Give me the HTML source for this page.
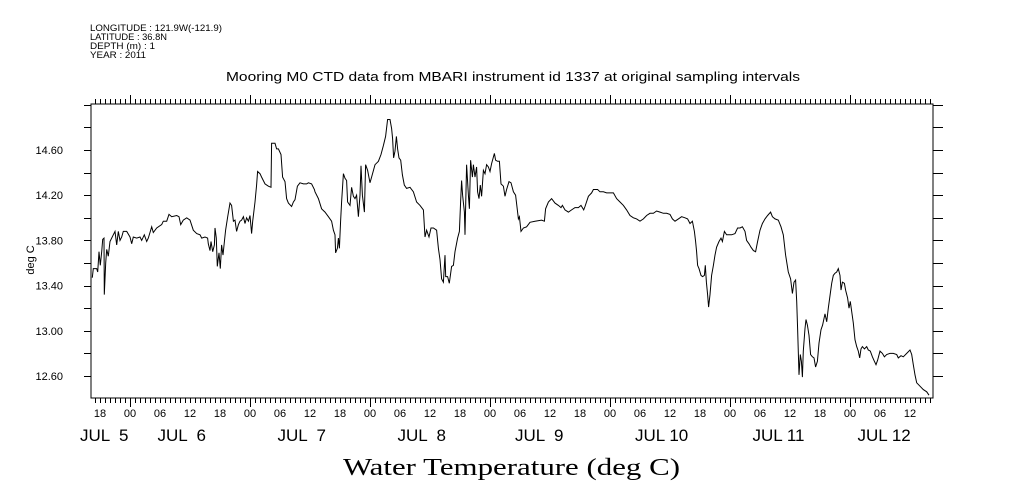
<!DOCTYPE html>
<html><head><meta charset="utf-8"><style>
html,body{margin:0;padding:0;background:#fff;}
svg{display:block;font-family:"Liberation Sans",sans-serif;}
</style></head><body>
<svg id="chart" width="1009" height="504" viewBox="0 0 1009 504" xmlns="http://www.w3.org/2000/svg">
<g font-size="9" fill="#000">
<text x="90" y="31" textLength="132" lengthAdjust="spacingAndGlyphs">LONGITUDE : 121.9W(-121.9)</text>
<text x="90" y="40" textLength="77" lengthAdjust="spacingAndGlyphs">LATITUDE : 36.8N</text>
<text x="90" y="49" textLength="65" lengthAdjust="spacingAndGlyphs">DEPTH (m) : 1</text>
<text x="90" y="58" textLength="56" lengthAdjust="spacingAndGlyphs">YEAR : 2011</text>
</g>
<text x="226" y="81" textLength="574" lengthAdjust="spacingAndGlyphs" font-size="12.5">Mooring M0 CTD data from MBARI instrument id 1337 at original sampling intervals</text>
<text transform="translate(34,260) rotate(-90)" text-anchor="middle" font-size="11">deg C</text>
<text x="343" y="475" textLength="337" lengthAdjust="spacingAndGlyphs" font-size="24" font-family="Liberation Serif, serif">Water Temperature (deg C)</text>
<g id="axes"></g>
<g id="ticklabels" font-size="11"></g>
<path id="series" fill="none" stroke="#000" stroke-width="1"/>
</svg>
<script>
const hours = [-7.53,-7.33,-6.67,-6.47,-6.2,-5.93,-5.67,-5.47,-5.2,-5.13,-4.87,-4.67,-4.33,-4.0,-3.33,-3.0,-2.67,-2.33,-2.0,-1.67,-1.33,-0.67,0,0.33,0.67,1.33,2.0,2.33,2.87,3.33,3.67,4.33,4.67,5.33,6.33,6.67,7.33,7.8,8.33,9.33,9.8,10.13,10.67,11.33,12.0,12.67,13.33,14.0,14.33,15.0,15.53,15.67,16.0,16.2,16.53,16.87,17.0,17.27,17.47,17.8,18.07,18.33,18.6,18.87,19.13,19.53,20.0,20.33,20.67,21.0,21.33,21.67,22.0,22.33,22.67,23.0,23.33,23.67,24.0,24.33,24.53,25.0,25.33,25.53,26.0,26.33,27.0,27.67,28.2,28.33,29.0,29.33,29.67,30.2,30.53,31.0,31.33,31.67,32.33,32.67,33.0,33.47,34.0,34.67,35.33,35.67,36.33,36.87,
37.0,37.67,38.33,39.0,39.67,40.33,40.67,41.0,41.13,41.47,41.67,41.87,42.13,42.33,42.67,43.0,43.33,43.53,44.0,44.33,44.67,45.0,45.33,45.67,46.0,46.2,46.47,46.87,47.13,47.53,48.0,48.33,49.0,49.67,50.2,50.67,51.13,51.53,52.0,52.33,52.53,52.73,53.0,53.27,53.53,53.8,54.13,54.47,54.87,55.33,56.0,56.67,57.33,58.0,58.67,59.0,59.33,59.8,60.2,60.67,61.33,61.67,62.0,62.33,62.67,63.0,63.13,63.53,63.87,64.33,64.67,65.0,65.53,65.87,66.13,66.33,66.53,66.87,67.0,67.33,67.67,67.87,68.13,68.47,68.67,69.0,69.33,69.53,69.8,70.07,70.33,70.67,71.0,71.33,71.67,72.0,72.33,72.87,73.13,73.53,73.87,74.2,74.67,75.0,75.33,75.8,76.2,76.67,77.13,77.67,77.87,78.2,78.67,79.33,80.0,
81.0,82.33,82.87,83.13,83.67,84.33,85.0,85.67,86.2,86.47,87.0,87.67,88.33,89.0,89.67,90.2,90.73,91.0,91.67,92.33,92.67,93.0,93.53,94.0,94.67,95.33,96.0,96.67,97.33,98.0,98.67,99.33,100.0,100.67,101.33,102.0,102.67,103.33,104.0,104.67,105.33,106.0,106.67,107.33,108.0,108.47,109.0,109.67,110.33,111.0,111.53,112.0,112.47,112.87,113.13,113.33,113.53,113.8,114.2,114.53,114.87,115.07,115.27,115.53,115.73,116.0,116.33,116.67,117.0,117.33,117.8,118.2,118.47,118.87,119.33,119.8,120.33,121.0,121.53,122.0,122.47,123.0,123.33,123.8,124.2,124.67,125.13,125.53,126.0,126.47,127.0,127.53,128.13,128.47,129.0,129.67,130.2,130.67,131.13,131.67,132.13,132.47,132.8,133.13,133.33,133.53,133.8,134.07,134.27,134.47,134.67,135.0,135.2,135.47,135.8,136.13,136.47,136.8,137.13,137.47,137.8,138.2,138.53,139.0,139.33,139.67,140.07,140.33,140.67,141.0,141.33,141.67,142.0,142.2,142.47,142.87,143.13,143.53,143.8,144.07,144.33,144.67,145.0,145.33,145.67,145.93,146.2,146.47,146.87,147.33,147.67,148.07,148.47,148.87,149.2,149.53,150.0,150.47,150.87,151.33,152.0,152.67,153.33,153.67,154.2,154.67,155.33,156.0,156.33,156.67,157.0,157.33,158.0,158.67,159.33,159.8];
const temps = [13.47,13.55,13.55,13.52,13.70,13.58,13.70,13.81,13.82,13.32,13.60,13.72,13.66,13.79,13.85,13.88,13.76,13.88,13.80,13.83,13.88,13.88,13.83,13.77,13.83,13.82,13.83,13.80,13.85,13.79,13.82,13.92,13.87,13.91,13.94,13.97,13.97,14.03,14.01,14.02,14.01,13.94,13.98,14.00,13.98,13.89,13.86,13.85,13.82,13.83,13.82,13.77,13.71,13.79,13.70,13.76,13.91,13.82,13.57,13.69,13.55,13.76,13.67,13.79,13.89,14.01,14.13,14.11,13.97,13.98,13.88,13.94,13.97,13.98,14.01,13.95,14.00,13.97,14.02,13.86,13.97,14.14,14.29,14.41,14.39,14.36,14.30,14.28,14.27,14.66,14.66,14.61,14.61,14.56,14.36,14.32,14.17,14.13,14.10,14.14,14.16,14.28,14.31,14.30,14.30,14.31,14.30,14.25,
14.23,14.17,14.08,14.05,14.01,13.97,13.89,13.85,13.69,13.73,13.82,13.73,13.97,14.14,14.39,14.35,14.33,14.14,14.11,14.27,14.19,14.17,14.20,14.01,14.20,14.46,14.20,14.05,14.47,14.42,14.31,14.36,14.47,14.50,14.56,14.64,14.72,14.87,14.87,14.79,14.70,14.53,14.59,14.72,14.61,14.53,14.51,14.38,14.29,14.26,14.27,14.23,14.14,14.11,14.07,13.83,13.89,13.83,13.91,13.91,13.89,13.73,13.63,13.46,13.43,13.67,13.48,13.48,13.42,13.57,13.58,13.70,13.82,13.88,14.14,14.33,14.20,14.05,13.85,14.47,14.20,14.08,14.51,14.36,14.47,14.36,14.45,14.23,14.17,14.29,14.19,14.42,14.39,14.47,14.45,14.41,14.48,14.57,14.51,14.50,14.50,14.30,14.28,14.19,14.25,14.32,14.31,14.23,14.20,13.99,14.01,13.88,13.91,13.92,13.96,
13.97,13.98,13.97,14.08,14.14,14.17,14.13,14.11,14.09,14.11,14.07,14.05,14.07,14.09,14.09,14.11,14.07,14.10,14.19,14.22,14.25,14.25,14.25,14.23,14.23,14.22,14.22,14.22,14.17,14.14,14.11,14.07,14.02,14.00,13.99,13.97,13.99,14.02,14.04,14.04,14.06,14.05,14.04,14.04,14.03,13.99,13.97,13.99,14.01,14.00,13.99,13.95,13.97,13.88,13.79,13.70,13.58,13.55,13.49,13.48,13.49,13.58,13.43,13.32,13.21,13.32,13.49,13.58,13.67,13.74,13.79,13.82,13.79,13.88,13.85,13.85,13.85,13.86,13.91,13.91,13.92,13.88,13.80,13.77,13.74,13.71,13.70,13.79,13.89,13.95,13.99,14.02,14.05,14.01,13.99,13.98,13.92,13.85,13.67,13.52,13.46,13.33,13.43,13.45,13.26,13.02,12.61,12.79,12.73,12.59,12.82,13.02,13.10,13.05,12.96,12.79,12.77,12.76,12.68,12.73,12.89,13.01,13.05,13.15,13.08,13.20,13.33,13.42,13.49,13.51,13.52,13.55,13.49,13.36,13.43,13.42,13.36,13.29,13.20,13.26,13.17,13.07,12.92,12.86,12.82,12.76,12.84,12.86,12.84,12.86,12.83,12.82,12.77,12.73,12.70,12.74,12.82,12.80,12.77,12.79,12.80,12.80,12.79,12.76,12.78,12.77,12.80,12.83,12.79,12.70,12.61,12.54,12.51,12.48,12.46,12.43];
const yTickValues = [14.60,14.20,13.80,13.40,13.00,12.60];
const hourLabels = ["18","00","06","12"];
const dayLabels = ["JUL  5","JUL  6","JUL  7","JUL  8","JUL  9","JUL 10","JUL 11","JUL 12"];
const dayLabelHours = [-10,5.5,29.5,53.5,77,101,124.5,145.5];

const L=91,R=933,T=104,B=398;
function xs(t){return 130+5*t;}
function ys(v){return 150+(14.6-v)*113;}
const NS="http://www.w3.org/2000/svg";
const axes=document.getElementById('axes');
const tl=document.getElementById('ticklabels');
function line(x1,y1,x2,y2,name){
  const l=document.createElementNS(NS,'line');
  l.setAttribute('x1',x1);l.setAttribute('y1',y1);l.setAttribute('x2',x2);l.setAttribute('y2',y2);
  l.setAttribute('stroke','#000');l.setAttribute('stroke-width','1');
  
  
  axes.appendChild(l);
}
const box=document.createElementNS(NS,'rect');
box.setAttribute('x',L);box.setAttribute('y',T);box.setAttribute('width',R-L);box.setAttribute('height',B-T);
box.setAttribute('fill','none');box.setAttribute('stroke','#000');


axes.appendChild(box);
for(let h=-7;h<=160;h++){
  const x=xs(h)+0.5; const major=(h%24===0);
  const len=major?9:5;
  line(x,T,x,T-len,'top-tick');
  line(x,B,x,B+len,'bottom-tick');
}
for(let v=12.4;v<=15.01;v+=0.2){
  const y=Math.round(ys(v))+0.5;
  if(y<T||y>B) continue;
  line(L,y,L-7,y,'left-tick');
  line(R,y,R+10,y,'right-tick');
}
yTickValues.forEach(v=>{
  const t=document.createElementNS(NS,'text');
  t.setAttribute('x',63);t.setAttribute('y',ys(v)+4);t.setAttribute('text-anchor','end');
  t.textContent=v.toFixed(2);
  
  
  tl.appendChild(t);
});
let i=0;
for(let h=-6;h<=156;h+=6){
  const t=document.createElementNS(NS,'text');
  t.setAttribute('x',xs(h));t.setAttribute('y',417);t.setAttribute('text-anchor','middle');
  t.textContent=hourLabels[i%4];i++;
  
  
  tl.appendChild(t);
}
dayLabels.forEach((d,k)=>{
  const t=document.createElementNS(NS,'text');
  t.setAttribute('x',xs(dayLabelHours[k]));t.setAttribute('y',441);
  t.setAttribute('font-size','17');t.setAttribute('style','white-space:pre');
  t.textContent=d;
  
  
  tl.appendChild(t);
});
let d='';
hours.forEach((h,k)=>{d+=(k?'L':'M')+xs(h).toFixed(1)+' '+ys(temps[k]).toFixed(1);});
document.getElementById('series').setAttribute('d',d);
</script>
</body></html>
